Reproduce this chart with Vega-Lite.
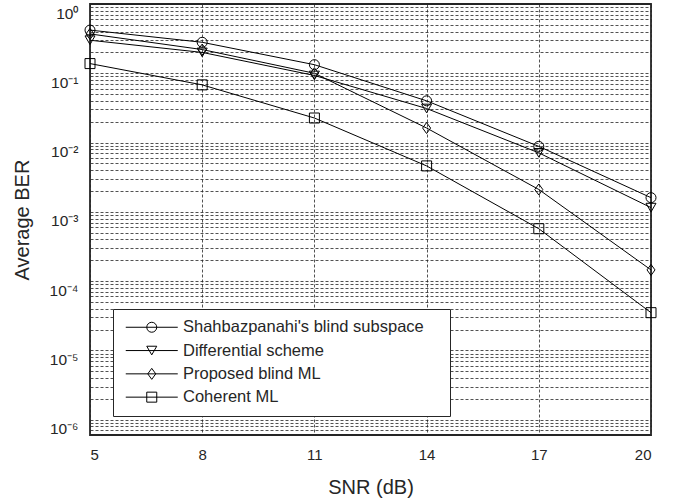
{
  "$schema": "https://vega.github.io/schema/vega-lite/v6.json",
  "width": 561,
  "height": 431,
  "autosize": {"type": "none"},
  "padding": {"left": 90, "top": 4, "right": 34, "bottom": 64},
  "background": "white",
  "config": {
    "font": "Liberation Sans",
    "view": {"stroke": "#262626", "strokeWidth": 1.8},
    "axis": {
      "domain": false,
      "ticks": false,
      "grid": true,
      "gridColor": "#262626",
      "gridDash": [3, 2],
      "gridWidth": 0.8,
      "gridOpacity": 1,
      "labelFont": "Liberation Sans",
      "labelFontSize": 15,
      "labelColor": "#262626",
      "titleFont": "Liberation Sans",
      "titleFontSize": 20,
      "titleFontWeight": "normal",
      "titleColor": "#262626"
    }
  },
  "data": {
    "values": [
      {"series": "Shahbazpanahi's blind subspace", "snr": 5, "ber": 0.42},
      {"series": "Shahbazpanahi's blind subspace", "snr": 8, "ber": 0.28},
      {"series": "Shahbazpanahi's blind subspace", "snr": 11, "ber": 0.133},
      {"series": "Shahbazpanahi's blind subspace", "snr": 14, "ber": 0.04},
      {"series": "Shahbazpanahi's blind subspace", "snr": 17, "ber": 0.0088},
      {"series": "Shahbazpanahi's blind subspace", "snr": 20, "ber": 0.0016},
      {"series": "Differential scheme", "snr": 5, "ber": 0.3},
      {"series": "Differential scheme", "snr": 8, "ber": 0.2},
      {"series": "Differential scheme", "snr": 11, "ber": 0.093},
      {"series": "Differential scheme", "snr": 14, "ber": 0.031},
      {"series": "Differential scheme", "snr": 17, "ber": 0.0071},
      {"series": "Differential scheme", "snr": 20, "ber": 0.00115},
      {"series": "Proposed blind ML", "snr": 5, "ber": 0.37},
      {"series": "Proposed blind ML", "snr": 8, "ber": 0.22},
      {"series": "Proposed blind ML", "snr": 11, "ber": 0.1},
      {"series": "Proposed blind ML", "snr": 14, "ber": 0.0162},
      {"series": "Proposed blind ML", "snr": 17, "ber": 0.0021},
      {"series": "Proposed blind ML", "snr": 20, "ber": 0.000145},
      {"series": "Coherent ML", "snr": 5, "ber": 0.138},
      {"series": "Coherent ML", "snr": 8, "ber": 0.068},
      {"series": "Coherent ML", "snr": 11, "ber": 0.0226},
      {"series": "Coherent ML", "snr": 14, "ber": 0.0046},
      {"series": "Coherent ML", "snr": 17, "ber": 0.00057},
      {"series": "Coherent ML", "snr": 20, "ber": 0.000035}
    ]
  },
  "encoding": {
    "x": {
      "field": "snr",
      "type": "quantitative",
      "scale": {"domain": [5, 20], "nice": false, "zero": false},
      "axis": {
        "values": [5, 8, 11, 14, 17, 20],
        "title": "SNR (dB)",
        "labelPadding": 12,
        "titleY": 52,
        "titleBaseline": "middle"
      }
    },
    "y": {
      "field": "ber",
      "type": "quantitative",
      "scale": {"type": "log", "domain": [6e-7, 1], "nice": false},
      "axis": {
        "title": "Average BER",
        "titleX": -68,
        "titleBaseline": "middle",
        "labelPadding": 12,
        "labelOffset": 9,
        "labelOverlap": false,
        "labelFontSize": 15.5,
        "labelExpr": "abs(log(datum.value)/LN10 - round(log(datum.value)/LN10)) < 0.001 ? ['10⁰','10⁻¹','10⁻²','10⁻³','10⁻⁴','10⁻⁵','10⁻⁶'][-round(log(datum.value)/LN10)] : ''",
        "values": [
          7e-7, 8e-7, 9e-7,
          1e-6, 2e-6, 3e-6, 4e-6, 5e-6, 6e-6, 7e-6, 8e-6, 9e-6,
          1e-5, 2e-5, 3e-5, 4e-5, 5e-5, 6e-5, 7e-5, 8e-5, 9e-5,
          1e-4, 2e-4, 3e-4, 4e-4, 5e-4, 6e-4, 7e-4, 8e-4, 9e-4,
          1e-3, 2e-3, 3e-3, 4e-3, 5e-3, 6e-3, 7e-3, 8e-3, 9e-3,
          1e-2, 2e-2, 3e-2, 4e-2, 5e-2, 6e-2, 7e-2, 8e-2, 9e-2,
          1e-1, 2e-1, 3e-1, 4e-1, 5e-1, 6e-1, 7e-1, 8e-1, 9e-1,
          1
        ]
      }
    }
  },
  "layer": [
    {
      "mark": {"type": "line", "color": "black", "strokeWidth": 1},
      "encoding": {"detail": {"field": "series", "type": "nominal"}}
    },
    {
      "mark": {"type": "point", "filled": false, "color": "black", "strokeWidth": 1, "size": 100, "opacity": 1},
      "encoding": {
        "shape": {
          "field": "series",
          "type": "nominal",
          "scale": {
            "domain": ["Shahbazpanahi's blind subspace", "Differential scheme", "Proposed blind ML", "Coherent ML"],
            "range": ["circle", "triangle-down", "M-0.8,0L0,-1.1L0.8,0L0,1.1Z", "square"]
          },
          "legend": null
        }
      }
    },
    {
      "mark": {"type": "point", "filled": false, "color": "black", "strokeWidth": 1, "size": 100, "opacity": 0},
      "encoding": {
        "shape": {
          "field": "series",
          "type": "nominal",
          "scale": {
            "domain": ["Shahbazpanahi's blind subspace", "Differential scheme", "Proposed blind ML", "Coherent ML"],
            "range": [
              "M-5.2,0H5.2M1,0A1,1,0,1,1,-1,0A1,1,0,1,1,1,0",
              "M-5.2,0H5.2M0,0.866L-1,-0.866L1,-0.866Z",
              "M-5.2,0H5.2M-0.8,0L0,-1.1L0.8,0L0,1.1Z",
              "M-5.2,0H5.2M-1,-1H1V1H-1Z"
            ]
          },
          "legend": {
            "title": " ",
            "titleOrient": "right",
            "titlePadding": 16,
            "titleFontSize": 11,
            "orient": "none",
            "legendX": 23,
            "legendY": 305,
            "fillColor": "white",
            "strokeColor": "#262626",
            "padding": 10,
            "symbolOpacity": 1,
            "symbolStrokeColor": "black",
            "symbolFillColor": "transparent",
            "symbolStrokeWidth": 1,
            "symbolSize": 100,
            "symbolOffset": 20.5,
            "labelOffset": 23,
            "labelFontSize": 16.5,
            "labelFont": "Liberation Sans",
            "labelColor": "#262626",
            "labelLimit": 400,
            "rowPadding": 6.3
          }
        }
      }
    }
  ],
  "resolve": {"scale": {"shape": "independent"}, "legend": {"shape": "independent"}}
}
